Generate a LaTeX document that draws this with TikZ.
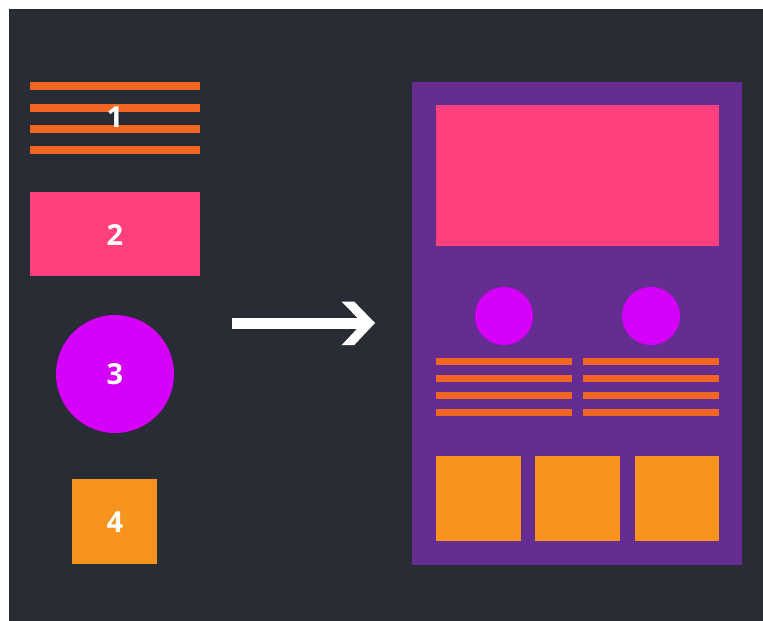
\documentclass[tikz,border=0pt]{standalone}
\usepackage{fontspec}
\setmainfont{Open Sans}
\definecolor{bgdark}{HTML}{282C34}
\definecolor{lineor}{HTML}{F26522}
\definecolor{pinkc}{HTML}{FF407D}
\definecolor{magc}{HTML}{D500F9}
\definecolor{sqor}{HTML}{F7941D}
\definecolor{purp}{HTML}{662D91}
\tikzset{
  bar/.style={draw=none,fill=lineor},
  lbl/.style={text=white,font=\fontsize{29}{30}\selectfont\bfseries,inner sep=0pt},
}
\begin{document}
\begin{tikzpicture}[x=1pt,y=-1pt]
\useasboundingbox (0,0) rectangle (763,621);
\fill[white] (0,0) rectangle (763,621);
\fill[bgdark] (9,9) rectangle (763,621);
% item 1: lines
\foreach \yy in {85.8,107.5,128.5,149.5}
  \fill[bar] (29.5,\yy-4) rectangle (200,\yy+4);
\node[lbl] (l1) at (115,117) {1};
% item 2
\fill[pinkc] (30,192) rectangle (200,276);
\node[lbl] (l2) at (115,235) {2};
% item 3
\fill[magc] (115,374) circle (59);
\node[lbl] (l3) at (115,374) {3};
% item 4
\fill[sqor] (72.3,479.3) rectangle (157.3,564.3);
\node[lbl] (l4) at (115,522) {4};
% arrow
\fill[white] (232,318) rectangle (364,329);
\fill[white] (341.7,301.7) -- (354.3,301.7) -- (375,323) -- (354.3,345) -- (341.7,345) -- (362.5,323) -- cycle;
% layout
\fill[purp] (412.3,82.3) rectangle (742.3,565);
\fill[pinkc] (435.7,105) rectangle (719,246);
\fill[magc] (504,316) circle (29);
\fill[magc] (651,316) circle (29);
\foreach \yy in {361.7,378,395.7,412}{
  \fill[bar] (435.7,\yy-3.5) rectangle (571.7,\yy+3.5);
  \fill[bar] (583,\yy-3.5) rectangle (719,\yy+3.5);
}
\fill[sqor] (436,456) rectangle (520.5,540.5);
\fill[sqor] (535,456) rectangle (619.5,540.5);
\fill[sqor] (634.5,456) rectangle (719,540.5);
\end{tikzpicture}
\end{document}
